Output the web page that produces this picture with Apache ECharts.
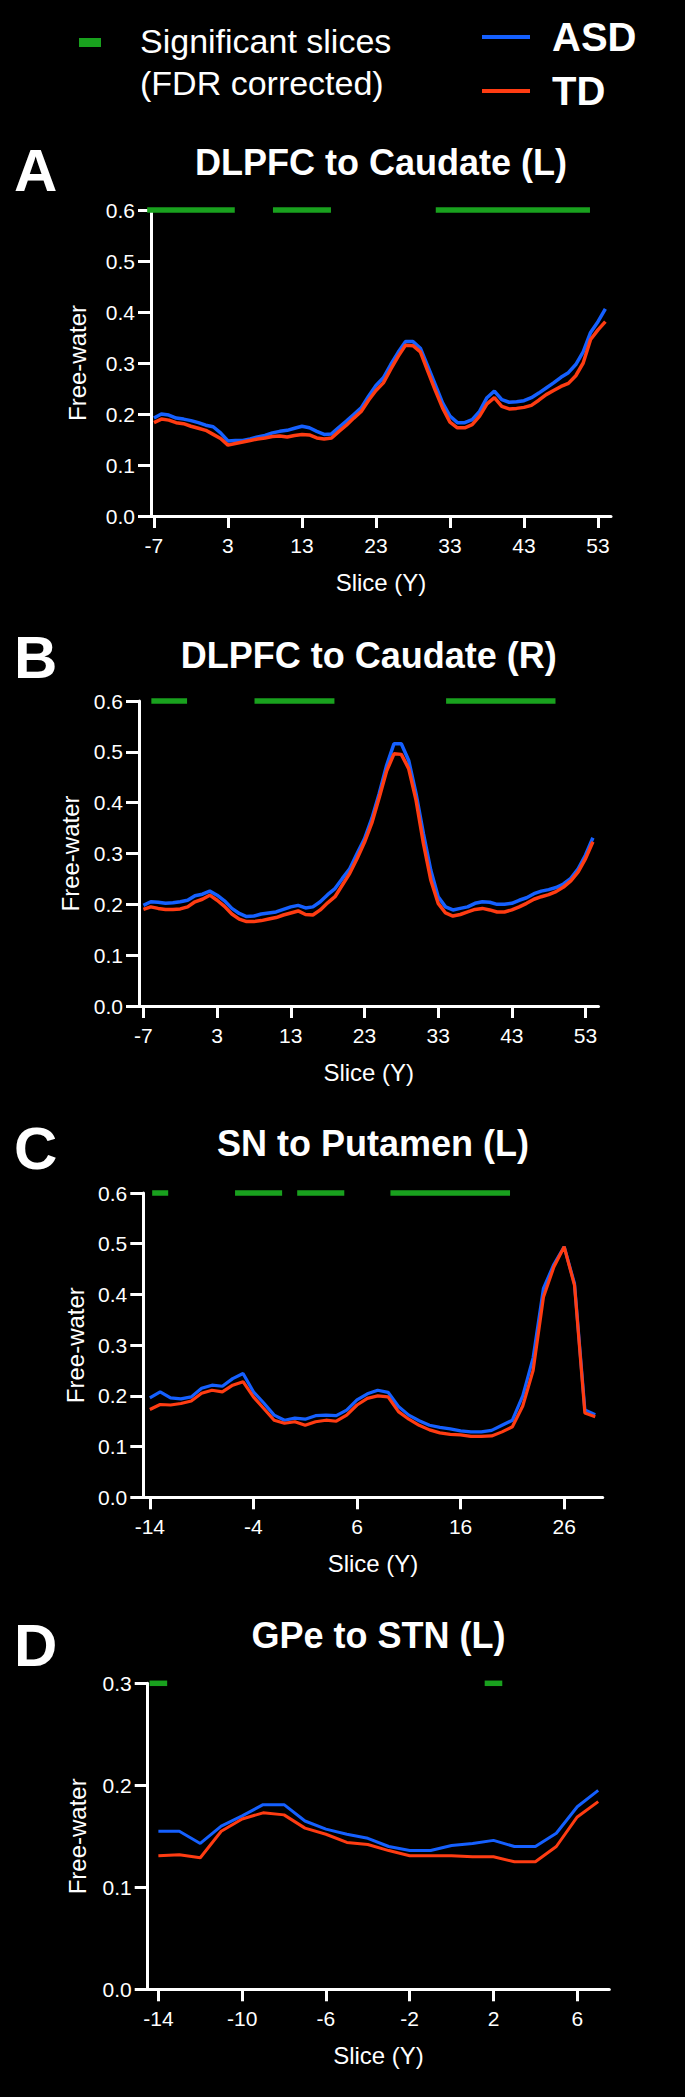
<!DOCTYPE html>
<html>
<head>
<meta charset="utf-8">
<script src="https://cdn.jsdelivr.net/npm/echarts@6/dist/echarts.min.js"></script>
<style>
html,body{margin:0;padding:0;background:#000;}
#chart{width:685px;height:2097px;}
</style>
</head>
<body>
<div id="chart"></div>
<script>
// ---------- DATA ----------
// Panel A: DLPFC to Caudate (L)
const slicesA = [-7,-6,-5,-4,-3,-2,-1,0,1,2,3,4,5,6,7,8,9,10,11,12,13,14,15,16,17,18,19,20,21,22,23,24,25,26,27,28,29,30,31,32,33,34,35,36,37,38,39,40,41,42,43,44,45,46,47,48,49,50,51,52,53,54];
const asdA = [0.192,0.200,0.198,0.192,0.190,0.187,0.183,0.178,0.175,0.163,0.147,0.148,0.148,0.151,0.155,0.158,0.163,0.166,0.168,0.172,0.176,0.173,0.166,0.160,0.161,0.174,0.186,0.199,0.212,0.235,0.256,0.271,0.297,0.321,0.342,0.342,0.329,0.294,0.258,0.222,0.196,0.183,0.183,0.189,0.205,0.232,0.245,0.228,0.223,0.224,0.226,0.232,0.241,0.251,0.261,0.272,0.281,0.297,0.322,0.360,0.381,0.406];
const tdA  = [0.183,0.190,0.188,0.183,0.181,0.176,0.172,0.168,0.160,0.152,0.139,0.142,0.145,0.148,0.151,0.153,0.156,0.157,0.155,0.158,0.160,0.159,0.153,0.151,0.153,0.166,0.178,0.192,0.205,0.227,0.246,0.261,0.288,0.313,0.335,0.334,0.322,0.284,0.247,0.212,0.184,0.173,0.173,0.179,0.196,0.220,0.232,0.215,0.210,0.211,0.213,0.217,0.227,0.238,0.246,0.254,0.260,0.275,0.300,0.346,0.365,0.381];
const sigRunsA = [[-7,3],[10,16],[32,51]];
const xTicksA = [-7,3,13,23,33,43,53];

// Panel B: DLPFC to Caudate (R)
const slicesB = [-7,-6,-5,-4,-3,-2,-1,0,1,2,3,4,5,6,7,8,9,10,11,12,13,14,15,16,17,18,19,20,21,22,23,24,25,26,27,28,29,30,31,32,33,34,35,36,37,38,39,40,41,42,43,44,45,46,47,48,49,50,51,52,53,54];
const asdB = [0.198,0.205,0.204,0.202,0.203,0.205,0.208,0.217,0.220,0.226,0.218,0.207,0.192,0.182,0.176,0.177,0.181,0.183,0.185,0.190,0.195,0.198,0.193,0.195,0.205,0.219,0.231,0.251,0.270,0.300,0.329,0.369,0.418,0.473,0.516,0.516,0.483,0.418,0.339,0.267,0.215,0.195,0.189,0.192,0.195,0.202,0.205,0.204,0.200,0.200,0.202,0.208,0.213,0.221,0.226,0.229,0.233,0.240,0.251,0.270,0.297,0.331];
const tdB  = [0.190,0.195,0.192,0.190,0.190,0.191,0.195,0.205,0.210,0.218,0.208,0.196,0.181,0.171,0.166,0.166,0.168,0.171,0.174,0.179,0.183,0.187,0.180,0.179,0.189,0.203,0.215,0.238,0.261,0.290,0.322,0.360,0.410,0.462,0.496,0.495,0.467,0.405,0.320,0.248,0.202,0.183,0.177,0.180,0.185,0.190,0.192,0.189,0.185,0.185,0.189,0.195,0.202,0.210,0.215,0.219,0.225,0.234,0.246,0.264,0.290,0.323];
const sigRunsB = [[-5,-2],[9,18],[35,48]];
const xTicksB = [-7,3,13,23,33,43,53];

// Panel C: SN to Putamen (L)
const slicesC = [-14,-13,-12,-11,-10,-9,-8,-7,-6,-5,-4,-3,-2,-1,0,1,2,3,4,5,6,7,8,9,10,11,12,13,14,15,16,17,18,19,20,21,22,23,24,25,26,27,28,29];
const asdC = [0.196,0.208,0.196,0.194,0.198,0.215,0.221,0.219,0.234,0.244,0.208,0.186,0.162,0.152,0.156,0.154,0.161,0.162,0.161,0.172,0.192,0.204,0.211,0.207,0.179,0.162,0.151,0.142,0.138,0.135,0.131,0.129,0.129,0.132,0.142,0.152,0.200,0.275,0.412,0.459,0.494,0.421,0.172,0.163];
const tdC  = [0.173,0.183,0.182,0.185,0.190,0.205,0.211,0.208,0.221,0.228,0.198,0.175,0.152,0.146,0.149,0.142,0.149,0.152,0.150,0.162,0.182,0.195,0.200,0.198,0.169,0.154,0.142,0.133,0.127,0.124,0.123,0.120,0.120,0.121,0.129,0.139,0.180,0.250,0.395,0.454,0.494,0.418,0.166,0.159];
const sigRunsC = [[-13,-13],[-5,-2],[1,4],[10,20]];
const xTicksC = [-14,-4,6,16,26];

// Panel D: GPe to STN (L)
const slicesD = [-14,-13,-12,-11,-10,-9,-8,-7,-6,-5,-4,-3,-2,-1,0,1,2,3,4,5,6,7];
const asdD = [0.155,0.155,0.143,0.160,0.170,0.181,0.181,0.165,0.157,0.152,0.148,0.140,0.136,0.136,0.141,0.143,0.146,0.140,0.140,0.153,0.179,0.195];
const tdD  = [0.131,0.132,0.129,0.155,0.167,0.173,0.171,0.158,0.152,0.144,0.142,0.136,0.131,0.131,0.131,0.130,0.130,0.125,0.125,0.140,0.169,0.184];
const sigRunsD = [[-14,-14],[2,2]];
const xTicksD = [-14,-10,-6,-2,2,6];

const titles = ['DLPFC to Caudate (L)','DLPFC to Caudate (R)','SN to Putamen (L)','GPe to STN (L)'];
const letters = ['A','B','C','D'];

// ---------- STYLE / LAYOUT ----------
const BLUE = '#1560FF', RED = '#FF3C12', GREEN = '#19A11E', WHITE = '#FFFFFF';
const FONT = '"Liberation Sans", Arial, Helvetica, sans-serif';

const panels = [
  {slices:slicesA, asd:asdA, td:tdA, sig:sigRunsA, ticks:xTicksA, yMax:0.6,
   grid:{left:151, top:210, width:460, height:306}, xMin:-7.4, xMax:54.76, hw:6.8, lw:3.5, titleY:162, letterY:170},
  {slices:slicesB, asd:asdB, td:tdB, sig:sigRunsB, ticks:xTicksB, yMax:0.6,
   grid:{left:139, top:701, width:459.5, height:305}, xMin:-7.6, xMax:54.76, hw:6.8, lw:3.5, titleY:655, letterY:657},
  {slices:slicesC, asd:asdC, td:tdC, sig:sigRunsC, ticks:xTicksC, yMax:0.6,
   grid:{left:143.3, top:1193, width:459.4, height:304.3}, xMin:-14.63, xMax:29.72, hw:8, lw:3.2, titleY:1143, letterY:1148},
  {slices:slicesD, asd:asdD, td:tdD, sig:sigRunsD, ticks:xTicksD, yMax:0.3,
   grid:{left:147.7, top:1683.3, width:461.6, height:306}, xMin:-14.51, xMax:7.53, hw:8.8, lw:3, titleY:1635, letterY:1645}
];

const grids = [], xAxes = [], yAxes = [], series = [], graphics = [];

panels.forEach((p, i) => {
  grids.push(Object.assign({}, p.grid));
  const axisLine = {show:true, onZero:false, lineStyle:{color:WHITE, width:3}};
  xAxes.push({
    type:'value', gridIndex:i, min:p.xMin, max:p.xMax,
    name:'Slice (Y)', nameLocation:'middle', nameGap:54,
    nameTextStyle:{color:WHITE, fontSize:24, fontFamily:FONT},
    axisLine:axisLine,
    axisTick:{show:true, length:12, lineStyle:{color:WHITE, width:3}, customValues:p.ticks},
    axisLabel:{color:WHITE, fontSize:21, fontFamily:FONT, margin:19, customValues:p.ticks},
    splitLine:{show:false}
  });
  yAxes.push({
    type:'value', gridIndex:i, min:0, max:p.yMax, interval:0.1,
    name:'Free-water', nameLocation:'middle', nameGap:(p.grid.left - 77 - 12),
    nameTextStyle:{color:WHITE, fontSize:24, fontFamily:FONT},
    axisLine:axisLine,
    axisTick:{show:true, length:13, lineStyle:{color:WHITE, width:3}},
    axisLabel:{color:WHITE, fontSize:21, fontFamily:FONT, margin:16, formatter:v => v.toFixed(1)},
    splitLine:{show:false}
  });
  series.push({
    name:'ASD', type:'line', xAxisIndex:i, yAxisIndex:i,
    data:p.slices.map((s, k) => [s, p.asd[k]]),
    showSymbol:false, symbol:'none', lineStyle:{color:BLUE, width:p.lw}, itemStyle:{color:BLUE}, z:3
  });
  series.push({
    name:'TD', type:'line', xAxisIndex:i, yAxisIndex:i,
    data:p.slices.map((s, k) => [s, p.td[k]]),
    showSymbol:false, symbol:'none', lineStyle:{color:RED, width:p.lw}, itemStyle:{color:RED}, z:4
  });
  const hw = p.hw;
  series.push({
    name:'Significant slices', type:'custom', xAxisIndex:i, yAxisIndex:i, clip:false, z:5,
    data:p.sig.map(r => [r[0], r[1], p.yMax]),
    encode:{x:[0,1], y:2},
    renderItem:function(params, api){
      const a = api.coord([api.value(0), api.value(2)]);
      const b = api.coord([api.value(1), api.value(2)]);
      return {type:'rect', shape:{x:a[0]-hw, y:a[1]-2.75, width:(b[0]-a[0])+2*hw, height:5.5}, style:{fill:GREEN}};
    }
  });
  const cx = p.grid.left + p.grid.width/2;
  graphics.push({type:'text', x:cx, y:p.titleY, style:{text:titles[i], fill:WHITE, font:'bold 36px ' + FONT, textAlign:'center', textVerticalAlign:'middle'}});
  graphics.push({type:'text', x:14, y:p.letterY, style:{text:letters[i], fill:WHITE, font:'bold 60px ' + FONT, textAlign:'left', textVerticalAlign:'middle'}});
});

// Legend: significant slices marker + text
graphics.push({type:'rect', shape:{x:79, y:38, width:22, height:9}, style:{fill:GREEN}});
graphics.push({type:'text', x:140, y:62, style:{text:'Significant slices\n(FDR corrected)', fill:WHITE, font:'34px ' + FONT, lineHeight:42, textAlign:'left', textVerticalAlign:'middle'}});

const chart = echarts.init(document.getElementById('chart'), null, {renderer:'svg', width:685, height:2097});
chart.setOption({
  backgroundColor:'#000000',
  animation:false,
  legend:{
    data:['ASD','TD'], orient:'vertical', left:477, top:12,
    icon:'rect', itemWidth:48, itemHeight:4, itemGap:14,
    textStyle:{color:WHITE, fontSize:40, fontWeight:'bold', fontFamily:FONT, padding:[0,0,0,17]},
    selectedMode:false
  },
  grid:grids,
  xAxis:xAxes,
  yAxis:yAxes,
  series:series,
  graphic:graphics
});
</script>
</body>
</html>
